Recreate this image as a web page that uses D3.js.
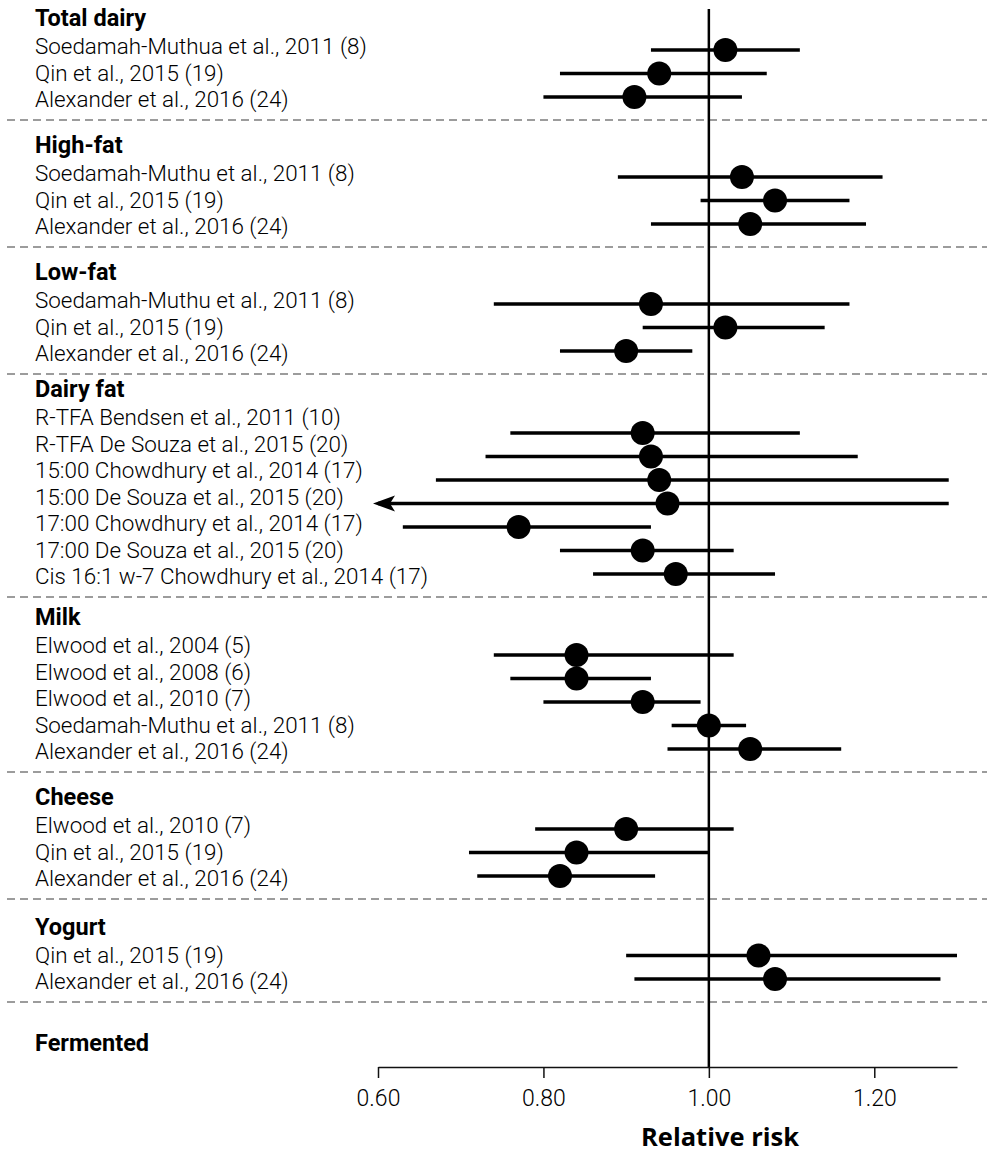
<!DOCTYPE html>
<html><head><meta charset="utf-8">
<script src="https://cdn.jsdelivr.net/npm/d3@7"></script>
<style>
body{margin:0;background:#fff}
text{font-family:Roboto,"Open Sans",sans-serif;fill:#000}
</style>
</head><body><svg id="chart" width="987" height="1154"></svg>
<script>
// Dairy exposure groups and the number of studies listed under each
const groups = ["Total dairy", "High-fat", "Low-fat", "Dairy fat", "Milk", "Cheese", "Yogurt", "Fermented"];
const groupSizes = [3, 3, 3, 7, 5, 3, 2, 0];

// Study labels, in plotting order
const studyLabels = [
  "Soedamah-Muthua et al., 2011 (8)", "Qin et al., 2015 (19)", "Alexander et al., 2016 (24)",
  "Soedamah-Muthu et al., 2011 (8)", "Qin et al., 2015 (19)", "Alexander et al., 2016 (24)",
  "Soedamah-Muthu et al., 2011 (8)", "Qin et al., 2015 (19)", "Alexander et al., 2016 (24)",
  "R-TFA Bendsen et al., 2011 (10)", "R-TFA De Souza et al., 2015 (20)",
  "15:00 Chowdhury et al., 2014 (17)", "15:00 De Souza et al., 2015 (20)",
  "17:00 Chowdhury et al., 2014 (17)", "17:00 De Souza et al., 2015 (20)",
  "Cis 16:1 w-7 Chowdhury et al., 2014 (17)",
  "Elwood et al., 2004 (5)", "Elwood et al., 2008 (6)", "Elwood et al., 2010 (7)",
  "Soedamah-Muthu et al., 2011 (8)", "Alexander et al., 2016 (24)",
  "Elwood et al., 2010 (7)", "Qin et al., 2015 (19)", "Alexander et al., 2016 (24)",
  "Qin et al., 2015 (19)", "Alexander et al., 2016 (24)"
];

// Relative risk estimates with 95% confidence limits
const relativeRisk = [1.02, 0.94, 0.91,  1.04, 1.08, 1.05,  0.93, 1.02, 0.90,
  0.92, 0.93, 0.94, 0.95, 0.77, 0.92, 0.96,
  0.84, 0.84, 0.92, 1.00, 1.05,
  0.90, 0.84, 0.82,
  1.06, 1.08];
const ciLower = [0.93, 0.82, 0.80,  0.89, 0.99, 0.93,  0.74, 0.92, 0.82,
  0.76, 0.73, 0.67, 0.50, 0.63, 0.82, 0.86,
  0.74, 0.76, 0.80, 0.955, 0.95,
  0.79, 0.71, 0.72,
  0.90, 0.91];
const ciUpper = [1.11, 1.07, 1.04,  1.21, 1.17, 1.19,  1.17, 1.14, 0.98,
  1.11, 1.18, 1.29, 1.29, 0.93, 1.03, 1.08,
  1.03, 0.93, 0.99, 1.045, 1.16,
  1.03, 1.00, 0.935,
  1.30, 1.28];

// Axis ticks
const tickValues = [0.60, 0.80, 1.00, 1.20];
const axisTitle = "Relative risk";

const W = 987, H = 1154;
const svg = d3.select("#chart");

const x = d3.scaleLinear().domain([0.6, 1.3]).range([378, 957]);
const axisY = 1067;

// Vertical layout: each group block grows with its row count
const blocks = [];
let cursor = -7, idx = 0;
groups.forEach((g, gi) => {
  const n = groupSizes[gi];
  const top = cursor;
  const bottom = top + 31 + 24 * (n + 1) + (n === 0 ? 8 : 0);
  const rows = d3.range(n).map(k => idx + k);
  // text lines (header + studies) sit against the block bottom
  const lineY = d3.scaleLinear().domain([0, n || 1]).range([bottom - 21 - n * 26.5, bottom - 21 + (n ? 0 : 26.5)]);
  // plotted rows use a slightly tighter pitch, also bottom-anchored
  const first = bottom - 23 - (n - 1) * 23.5;
  const markY = d3.scaleLinear().domain([0, 1]).range([first, first + 23.5]);
  blocks.push({ name: g, n, top, bottom, rows, lineY, markY, last: gi === groups.length - 1 });
  idx += n;
  cursor = bottom;
});

const rowsData = [];
blocks.forEach(b => b.rows.forEach((r, k) => rowsData.push({
  label: studyLabels[r], rr: relativeRisk[r], lo: ciLower[r], hi: ciUpper[r],
  ty: b.lineY(k + 1), my: b.markY(k)
})));

// Dashed separators between groups
svg.append("g").selectAll("line").data(blocks.filter(b => !b.last)).join("line")
  .attr("x1", 7).attr("x2", W).attr("y1", d => d.bottom).attr("y2", d => d.bottom)
  .attr("stroke", "#9c9c9c").attr("stroke-width", 2.2).attr("stroke-dasharray", "8,5");

// Group headings
svg.append("g").selectAll("text").data(blocks).join("text")
  .attr("x", 35).attr("y", d => d.lineY(0) - 1.5).attr("dy", "0.36em")
  .attr("font-size", 23.5).attr("font-weight", 700).text(d => d.name);

// Study labels
svg.append("g").selectAll("text").data(rowsData).join("text")
  .attr("x", 35).attr("y", d => d.ty).attr("dy", "0.36em")
  .attr("font-size", 22.4).attr("font-weight", 300).text(d => d.label);

// Line of no effect
svg.append("line")
  .attr("x1", x(1)).attr("x2", x(1)).attr("y1", 9).attr("y2", axisY)
  .attr("stroke", "#000").attr("stroke-width", 2.5);

// Arrow marker for intervals that run past the axis minimum
svg.append("defs").append("marker")
  .attr("id", "arrow").attr("markerUnits", "userSpaceOnUse")
  .attr("markerWidth", 26).attr("markerHeight", 20)
  .attr("viewBox", "0 -10 26 20").attr("refX", 5).attr("refY", 0).attr("orient", "auto")
  .append("path").attr("d", "M0,0 L22,-8 L17,0 L22,8 Z").attr("fill", "#000");

const [xmin, xmax] = x.domain();
// Confidence intervals
svg.append("g").selectAll("line").data(rowsData).join("line")
  .attr("x1", d => x(Math.max(d.lo, xmin)))
  .attr("x2", d => x(Math.min(d.hi, xmax)))
  .attr("y1", d => d.my).attr("y2", d => d.my)
  .attr("stroke", "#000").attr("stroke-width", 3.3)
  .attr("marker-start", d => d.lo < xmin ? "url(#arrow)" : null);

// Point estimates
svg.append("g").selectAll("circle").data(rowsData).join("circle")
  .attr("cx", d => x(d.rr)).attr("cy", d => d.my).attr("r", 12).attr("fill", "#000");

// X axis
const axis = svg.append("g").attr("transform", `translate(0,${axisY})`)
  .call(d3.axisBottom(x).tickValues(tickValues).tickFormat(d3.format(".2f")).tickSize(11).tickSizeOuter(0));
axis.select(".domain").attr("stroke", "#111").attr("stroke-width", 1.5);
axis.selectAll(".tick line").attr("stroke", "#111").attr("stroke-width", 1.5);
axis.selectAll(".tick text").style("font-family", "Roboto").attr("font-size", 23)
  .attr("font-weight", 300).attr("fill", "#000").attr("y", 23).attr("dy", "0.71em");

svg.append("text").attr("x", 720).attr("y", 1146).style("font-family", "'Open Sans'")
  .attr("text-anchor", "middle").attr("font-size", 25.5).attr("font-weight", 700).text(axisTitle);
</script></body></html>
